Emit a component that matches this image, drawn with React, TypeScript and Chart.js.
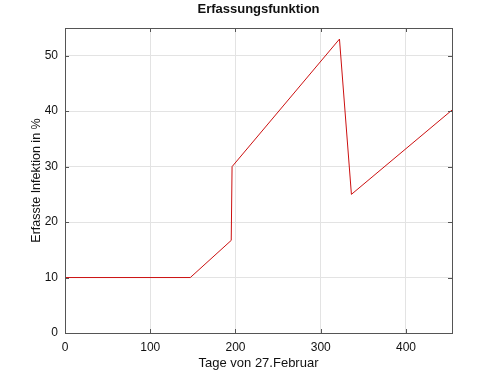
import React, { useEffect, useRef } from "react";
import { Chart, registerables } from "chart.js";

Chart.register(...registerables);

const days = [0, 147, 195, 196, 322, 336, 454];
const captured = [10, 10, 16.7, 30, 53, 25, 40.2];
const xTicks = [0, 100, 200, 300, 400];
const yTicks = [0, 10, 20, 30, 40, 50];

const FONT = "'Liberation Sans', Arial, sans-serif";

const frameTicks = {
  id: "frameTicks",
  afterDraw(chart: any) {
    const { ctx, chartArea: a, scales } = chart;
    const L = 4;
    ctx.save();
    ctx.strokeStyle = "#555";
    ctx.lineWidth = 1;
    ctx.beginPath();
    for (const v of xTicks) {
      const px = Math.round(scales.x.getPixelForValue(v)) + 0.5;
      ctx.moveTo(px, a.bottom);
      ctx.lineTo(px, a.bottom - L);
      ctx.moveTo(px, a.top);
      ctx.lineTo(px, a.top + L);
    }
    for (const v of yTicks) {
      const py = Math.round(scales.y.getPixelForValue(v)) + 0.5;
      ctx.moveTo(a.left, py);
      ctx.lineTo(a.left + L, py);
      ctx.moveTo(a.right, py);
      ctx.lineTo(a.right - L, py);
    }
    ctx.stroke();
    ctx.strokeRect(Math.round(a.left) + 0.5, Math.round(a.top) + 0.5, Math.round(a.right - a.left), Math.round(a.bottom - a.top));
    ctx.restore();
  },
};

export default function App() {
  const ref = useRef<HTMLCanvasElement>(null);
  useEffect(() => {
    document.body.style.margin = "0";
    const chart = new Chart(ref.current!, {
      type: "line",
      data: {
        datasets: [
          {
            data: days.map((d, i) => ({ x: d, y: captured[i] })),
            borderColor: "#cc1010",
            borderWidth: 1,
            pointRadius: 0,
            fill: false,
            tension: 0,
          },
        ],
      },
      options: {
        responsive: false,
        animation: false,
        layout: { padding: { left: 0, right: 48, top: 0, bottom: 0 } },
        plugins: {
          legend: { display: false },
          tooltip: { enabled: false },
          title: {
            display: true,
            fullSize: false,
            text: "Erfassungsfunktion",
            color: "#111",
            font: { family: FONT, size: 13, weight: "bold" },
            padding: { top: 1.5, bottom: 10.9 },
          },
        },
        scales: {
          x: {
            type: "linear",
            min: 0,
            max: 454,
            afterFit: (s: any) => { s.height = 42; },
            ticks: {
              stepSize: 100,
              includeBounds: false,
              color: "#111",
              font: { family: FONT, size: 12 },
              padding: 7,
              maxRotation: 0,
            },
            grid: { color: "#e3e3e3", drawTicks: false },
            border: { display: false },
            title: {
              display: true,
              text: "Tage von 27.Februar",
              color: "#111",
              font: { family: FONT, size: 13 },
              padding: { top: 0, bottom: 4.2 },
            },
          },
          y: {
            type: "linear",
            min: 0,
            max: 55,
            afterFit: (s: any) => { s.width = 65; },
            ticks: {
              stepSize: 10,
              includeBounds: false,
              color: "#111",
              font: { family: FONT, size: 12 },
              padding: 7,
            },
            grid: { color: "#e3e3e3", drawTicks: false },
            border: { display: false },
            title: {
              display: true,
              text: "Erfasste Infektion in %",
              color: "#111",
              font: { family: FONT, size: 12.5 },
              padding: { top: 29, bottom: 0 },
            },
          },
        },
      },
      plugins: [frameTicks],
    });
    return () => chart.destroy();
  }, []);
  return <canvas ref={ref} width={500} height={375} style={{ display: "block" }} />;
}
